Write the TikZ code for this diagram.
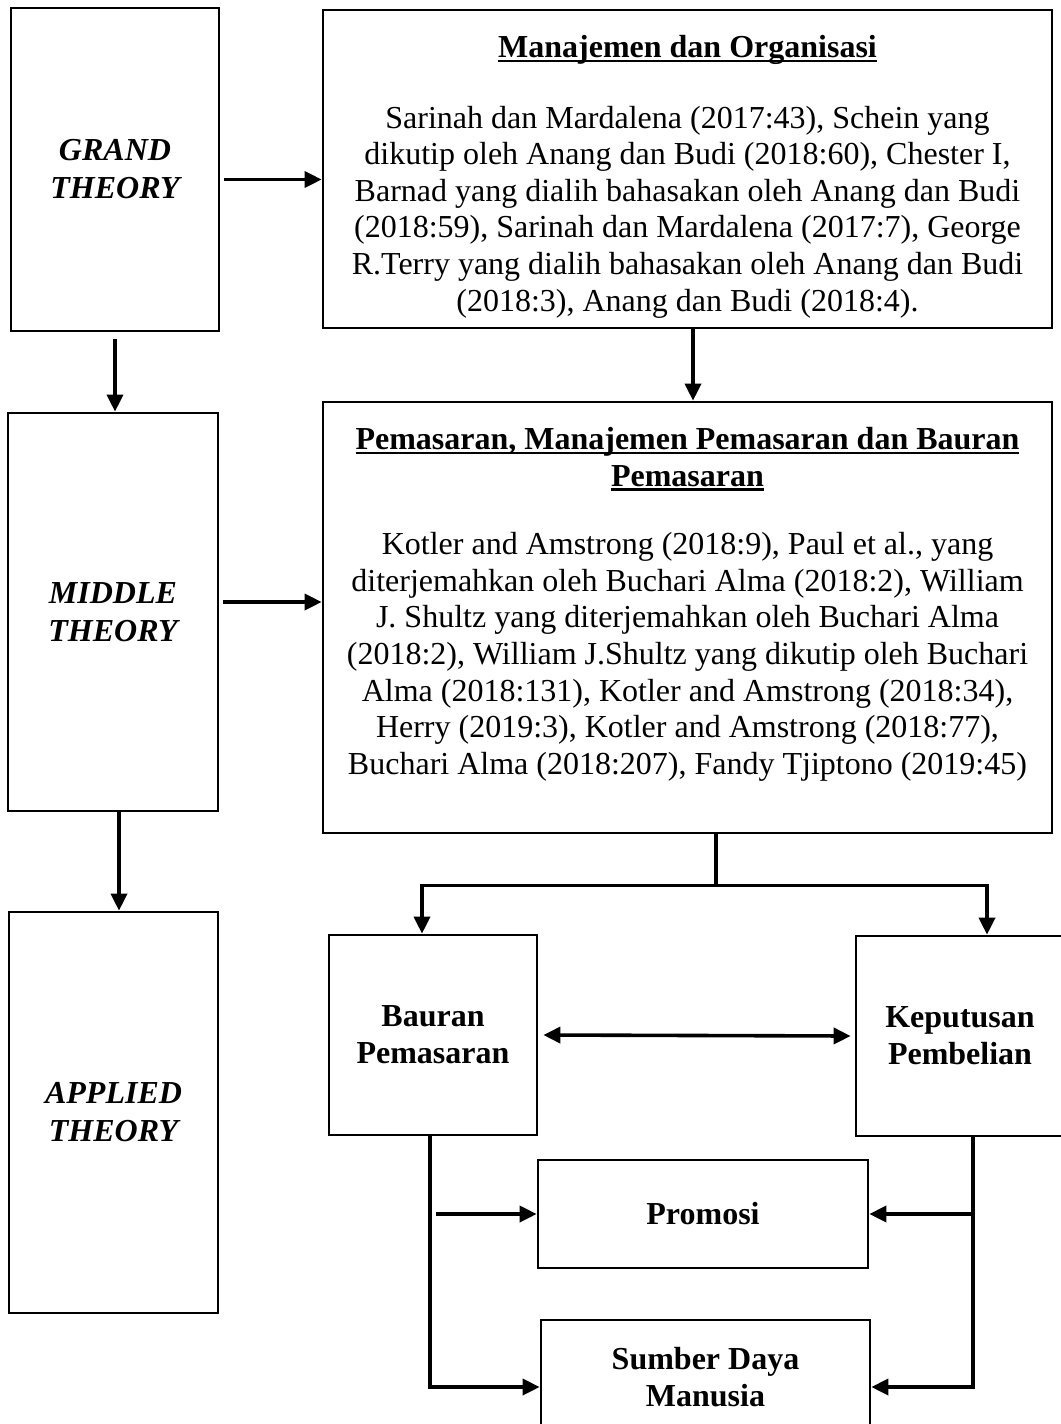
\documentclass[tikz,border=0pt]{standalone}
\usepackage{fontspec}
\setmainfont{Liberation Serif}
\usetikzlibrary{arrows.meta,calc}
\newcommand\myul[1]{\setbox0\hbox{#1}\leavevmode\rlap{\rule[-5pt]{\wd0}{2.8pt}}\copy0}
\begin{document}
\begin{tikzpicture}[x=1pt,y=-1pt,
  box/.style={draw,line width=2.7pt,inner sep=0pt},
  lbl/.style={font=\fontsize{32}{37}\selectfont\bfseries,align=center},
  thy/.style={font=\fontsize{32}{38}\selectfont\bfseries\itshape,align=center},
  body/.style={font=\fontsize{32}{36.6}\selectfont,align=center,inner sep=0pt},
  arr/.style={line width=3.6pt,-{Triangle[length=17pt,width=16pt]}},
  arrtwo/.style={line width=3.6pt,{Triangle[length=17pt,width=16pt]}-{Triangle[length=17pt,width=16pt]}},
  ln/.style={line width=3.6pt}]
\useasboundingbox (0,0) rectangle (1060,1424);

% boxes
\node[box,thy,minimum width=208pt,minimum height=323pt] (grand) at (115,169.5) {GRAND\\THEORY};
\node[box,minimum width=729pt,minimum height=318pt] (mbox) at (687.5,169) {};
\node[box,thy,minimum width=210pt,minimum height=398pt] (middle) at (113,612) {MIDDLE\\THEORY};
\node[box,minimum width=729pt,minimum height=431pt] (pbox) at (687.5,617.5) {};
\node[box,thy,minimum width=209pt,minimum height=401pt] (applied) at (113.5,1112.5) {APPLIED\\THEORY};
\node[box,lbl,minimum width=208pt,minimum height=200pt] (bauran) at (433,1035) {Bauran\\Pemasaran};
\node[box,lbl,minimum width=208pt,minimum height=200pt] (keput) at (960,1036) {Keputusan\\Pembelian};
\node[box,lbl,minimum width=330pt,minimum height=108pt] (promosi) at (703,1214) {Promosi};
\node[box,lbl,minimum width=329pt,minimum height=114pt] (sumber) at (705.5,1377) {Sumber Daya\\Manusia};

% texts in the big boxes
\node[body,anchor=north] (mtext) at (687.5,35) {\textbf{\myul{Manajemen dan Organisasi}}\\[34pt]
Sarinah dan Mardalena (2017:43), Schein yang\\
dikutip oleh Anang dan Budi (2018:60), Chester I,\\
Barnad yang dialih bahasakan oleh Anang dan Budi\\
(2018:59), Sarinah dan Mardalena (2017:7), George\\
R.Terry yang dialih bahasakan oleh Anang dan Budi\\
(2018:3), Anang dan Budi (2018:4).};

\node[body,anchor=north] (ptext) at (687.5,427) {\textbf{\myul{Pemasaran, Manajemen Pemasaran dan Bauran}}\\
\textbf{\myul{Pemasaran}}\\[32pt]
Kotler and Amstrong (2018:9), Paul et al., yang\\
diterjemahkan oleh Buchari Alma (2018:2), William\\
J. Shultz yang diterjemahkan oleh Buchari Alma\\
(2018:2), William J.Shultz yang dikutip oleh Buchari\\
Alma (2018:131), Kotler and Amstrong (2018:34),\\
Herry (2019:3), Kotler and Amstrong (2018:77),\\
Buchari Alma (2018:207), Fandy Tjiptono (2019:45)};

% connectors
\draw[arr] ([xshift=4pt,yshift=-10pt]grand.east) -- ([yshift=-10pt]grand.east -| mbox.west);
\draw[arr] ([yshift=-7pt]grand.south) -- (grand.south |- middle.north);
\coordinate (mdown) at ([xshift=5.5pt]mbox.south);
\draw[arr] (mdown) -- (mdown |- pbox.north);
\draw[arr] ([xshift=4pt,yshift=10pt]middle.east) -- ([yshift=10pt]middle.east -| pbox.west);
\coordinate (mid) at ([xshift=6pt]middle.south);
\draw[arr] (mid) -- (mid |- applied.north);

\coordinate (ptop) at ([xshift=28.5pt]pbox.south);
\coordinate (fork) at ($(ptop)+(0,51)$);
\draw[ln] (ptop) -- (fork);
\coordinate (bin) at ([xshift=-11pt]bauran.north);
\coordinate (kin) at ([xshift=27pt]keput.north);
\draw[arr] (fork) -| (bin);
\draw[arr] (fork) -| (kin);

\draw[arrtwo] ([xshift=5pt]bauran.east) -- ([xshift=-4pt]keput.west);

\coordinate (lt) at ([xshift=-3pt]bauran.south);
\coordinate (sw) at ([yshift=-10pt]sumber.west);
\draw[arr] (lt) |- (sw);
\coordinate (lp) at ([xshift=3pt]bauran.south);
\draw[arr] (lp |- promosi.west) -- (promosi.west);

\coordinate (rt) at ([xshift=13pt]keput.south);
\coordinate (se) at ([yshift=-10pt]sumber.east);
\draw[arr] (rt) |- (se);
\coordinate (rp) at ([xshift=-2pt]rt);
\draw[arr] (rp |- promosi.east) -- (promosi.east);
\end{tikzpicture}
\end{document}
